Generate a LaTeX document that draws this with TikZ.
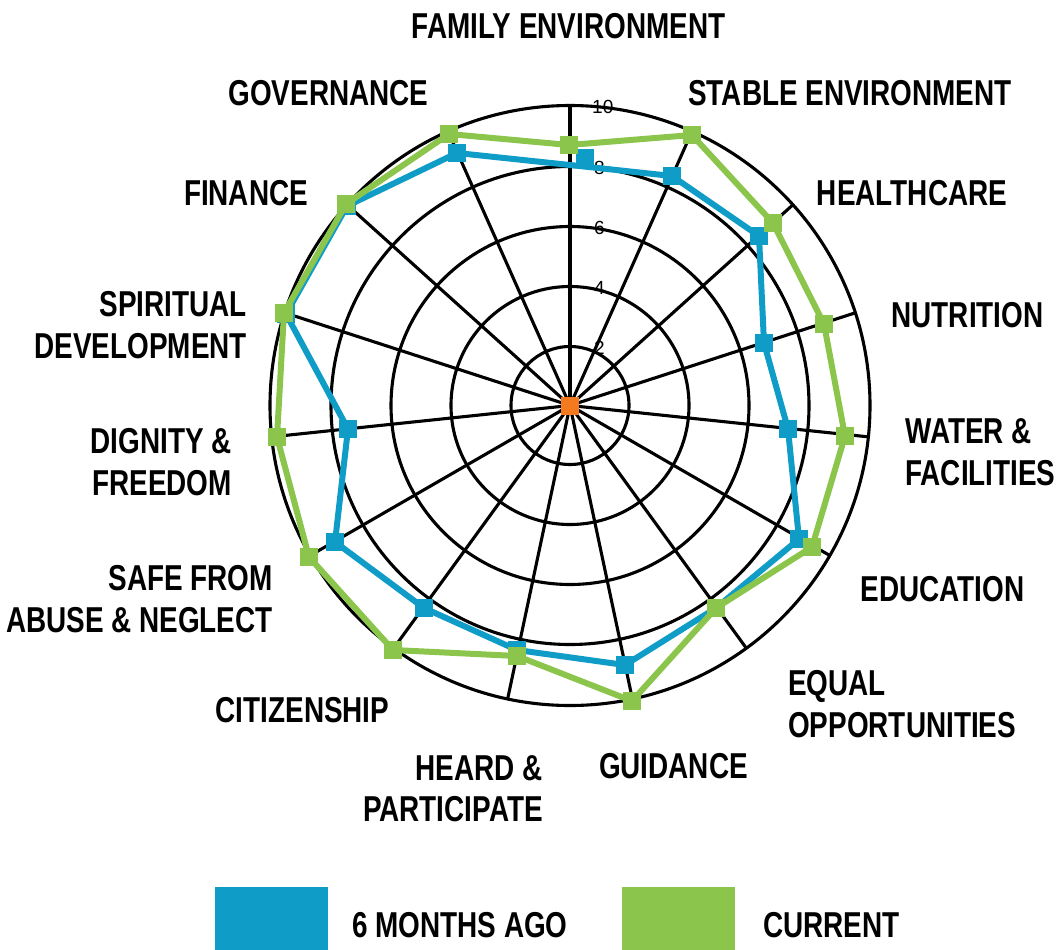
\documentclass[tikz,border=0pt]{standalone}
\usepackage{fontspec}
\setmainfont{Liberation Sans}
\newfontfamily\labfont{Liberation Sans}[FakeStretch=0.775]
\usetikzlibrary{calc}
\definecolor{cblue}{HTML}{0F9DC8}
\definecolor{cgreen}{HTML}{8CC54B}
\definecolor{corange}{HTML}{F47A20}
\begin{document}
\begin{tikzpicture}[x=1pt,y=-1pt,
  gridline/.style={line width=3.1pt, black},
  lab/.style={inner sep=0pt, font=\labfont\bfseries\fontsize{36}{36}\selectfont},
  ticklab/.style={inner sep=0pt, anchor=west, font=\fontsize{19}{19}\selectfont},
  bline/.style={cblue, line width=6pt, line join=round},
  gline/.style={cgreen, line width=6pt, line join=round},
  bmark/.style={rectangle, fill=cblue, draw=none, minimum size=18pt, inner sep=0pt},
  gmark/.style={rectangle, fill=cgreen, draw=none, minimum size=18pt, inner sep=0pt},
  omark/.style={rectangle, fill=corange, draw=none, minimum size=18pt, inner sep=0pt},
  legbox/.style={rectangle, draw=none, minimum width=113pt, minimum height=63pt, inner sep=0pt, anchor=north west}
]
\useasboundingbox (0,0) rectangle (1060,950);
\coordinate (C) at (570,405.5);

% grid
\foreach \r in {59,119,179,239,300}
  \draw[gridline] (C) circle[radius=\r];
\foreach \k in {0,...,14}
  \draw[gridline] (C) -- ($(C)+({24*\k-90}:300)$);

% tick labels
\node[ticklab] (t10) at (592,106.5) {10};
\node[ticklab] (t8) at (594,167.5) {8};
\node[ticklab] (t6) at (594,227.5) {6};
\node[ticklab] (t4) at (594,287.5) {4};
\node[ticklab] (t2) at (594,347.5) {2};

% blue series
\coordinate (b1) at (570,165);
\coordinate (b2) at (672,176);
\coordinate (b3) at (759,236);
\coordinate (b4) at (764,343);
\coordinate (b5) at (788,429);
\coordinate (b6) at (799,539);
\coordinate (b7) at (716,608);
\coordinate (b8) at (625,665);
\coordinate (b9) at (517,650);
\coordinate (b10) at (424,608);
\coordinate (b11) at (335,542);
\coordinate (b12) at (348,429);
\coordinate (b13) at (286,314);
\coordinate (b14) at (347,206);
\coordinate (b15) at (457,153);
\draw[bline] (b1) -- (b2) -- (b3) -- (b4) -- (b5) -- (b6) -- (b7) -- (b8) -- (b9) -- (b10) -- (b11) -- (b12) -- (b13) -- (b14) -- (b15) -- cycle;
\node[bmark] (bm1) at (585,158) {};
\foreach \i in {2,...,15}
  \node[bmark] (bm\i) at (b\i) {};

% green series
\coordinate (g1) at (569,145);
\coordinate (g2) at (692,135);
\coordinate (g3) at (773,223);
\coordinate (g4) at (824,324);
\coordinate (g5) at (845,436);
\coordinate (g6) at (812,547);
\coordinate (g7) at (716,608);
\coordinate (g8) at (632,701);
\coordinate (g9) at (517,656);
\coordinate (g10) at (393,650);
\coordinate (g11) at (309,557);
\coordinate (g12) at (277,437);
\coordinate (g13) at (284,313);
\coordinate (g14) at (346,204);
\coordinate (g15) at (449,134);
\draw[gline] (g1) -- (g2) -- (g3) -- (g4) -- (g5) -- (g6) -- (g7) -- (g8) -- (g9) -- (g10) -- (g11) -- (g12) -- (g13) -- (g14) -- (g15) -- cycle;
\foreach \i in {1,...,15}
  \node[gmark] (gm\i) at (g\i) {};

\node[omark] (ctr) at (C) {};

% category labels
\node[lab, anchor=base] (fam) at (568.5,39) {FAMILY ENVIRONMENT};
\node[lab, anchor=base] (gov) at (328.5,105) {GOVERNANCE};
\node[lab, anchor=base] (stab) at (850,105) {STABLE ENVIRONMENT};
\node[lab, anchor=base] (fin) at (246,205) {FINANCE};
\node[lab, anchor=base] (hea) at (912,205) {HEALTHCARE};
\node[lab, anchor=base east] (spi1) at (247,316) {SPIRITUAL};
\node[lab, anchor=base east] (spi2) at (247,358) {DEVELOPMENT};
\node[lab, anchor=base east] (dig1) at (232,453) {DIGNITY \&};
\node[lab, anchor=base east] (dig2) at (232,495) {FREEDOM};
\node[lab, anchor=base east] (safe1) at (273,590) {SAFE FROM};
\node[lab, anchor=base east] (safe2) at (273,632) {ABUSE \& NEGLECT};
\node[lab, anchor=base] (cit) at (302.5,722) {CITIZENSHIP};
\node[lab, anchor=base east] (her1) at (543,780) {HEARD \&};
\node[lab, anchor=base east] (her2) at (543,821) {PARTICIPATE};
\node[lab, anchor=base] (gui) at (673.5,778) {GUIDANCE};
\node[lab, anchor=base west] (eq1) at (788,695) {EQUAL};
\node[lab, anchor=base west] (eq2) at (788,737) {OPPORTUNITIES};
\node[lab, anchor=base] (edu) at (942.5,601) {EDUCATION};
\node[lab, anchor=base west] (wat1) at (905,443) {WATER \&};
\node[lab, anchor=base west] (wat2) at (905,485) {FACILITIES};
\node[lab, anchor=base] (nut) at (967.5,327) {NUTRITION};

% legend
\node[legbox, fill=cblue] (lb) at (215,887) {};
\node[lab, anchor=base west] (lbt) at (352,937) {6 MONTHS AGO};
\node[legbox, fill=cgreen] (lg) at (622,887) {};
\node[lab, anchor=base west] (lgt) at (763,937) {CURRENT};
\end{tikzpicture}
\end{document}
